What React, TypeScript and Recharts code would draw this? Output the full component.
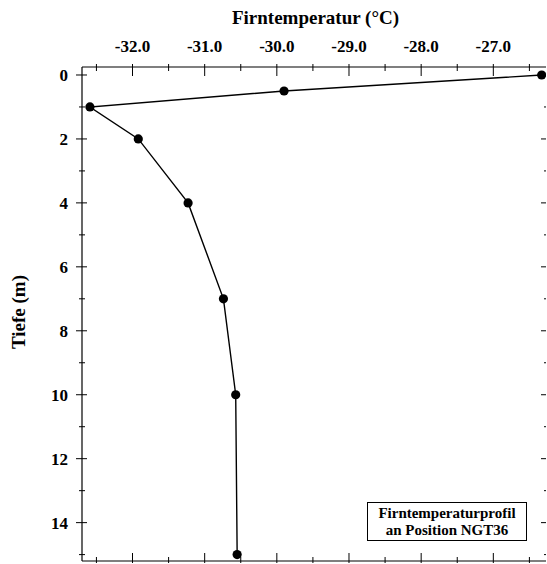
import React from "react";
import { ScatterChart, Scatter, XAxis, YAxis } from "recharts";

const depths = [0, 0.5, 1, 2, 4, 7, 10, 15];
const temps = [-26.33, -29.9, -32.59, -31.92, -31.23, -30.74, -30.57, -30.55];
const xTicks = [-32.5, -32, -31.5, -31, -30.5, -30, -29.5, -29, -28.5, -28, -27.5, -27, -26.5];
const yTicks = [0, 1, 2, 3, 4, 5, 6, 7, 8, 9, 10, 11, 12, 13, 14, 15];
const xTitle = "Firntemperatur (°C)";
const yTitle = "Tiefe (m)";
const noteLines = ["Firntemperaturprofil", "an Position NGT36"];

const data = depths.map((d, i) => ({ depth: d, temp: temps[i] }));

const FONT = "'Liberation Serif', 'DejaVu Serif', serif";
const isMajorX = (v: number) => Math.abs(v - Math.round(v)) < 1e-6;
const isMajorY = (v: number) => v % 2 === 0;

const TopTick = (props: any) => {
  const { x, y, payload } = props;
  const v = payload.value;
  const major = isMajorX(v);
  return (
    <g>
      <line x1={x} x2={x} y1={y - 3} y2={y + (major ? 9 : 4)} stroke="#000" strokeWidth={1} />
      {major && (
        <text x={x} y={y - 15} textAnchor="middle" fontFamily={FONT} fontWeight="bold" fontSize={17} fill="#000">
          {v.toFixed(1)}
        </text>
      )}
    </g>
  );
};

const BottomTick = (props: any) => {
  const { x, y, payload } = props;
  const major = isMajorX(payload.value);
  return <line x1={x} x2={x} y1={y + 2} y2={y - (major ? 8 : 4)} stroke="#000" strokeWidth={1} />;
};

const LeftTick = (props: any) => {
  const { x, y, payload } = props;
  const v = payload.value;
  const major = isMajorY(v);
  return (
    <g>
      <line x1={x - (major ? 6 : 3)} x2={x + (major ? 5 : 3)} y1={y} y2={y} stroke="#000" strokeWidth={1} />
      {major && (
        <text x={x - 14} y={y + 6} textAnchor="end" fontFamily={FONT} fontWeight="bold" fontSize={17} fill="#000">
          {v}
        </text>
      )}
    </g>
  );
};

const RightTick = (props: any) => {
  const { x, y, payload } = props;
  const major = isMajorY(payload.value);
  return <line x1={x} x2={x - (major ? 5 : 2)} y1={y} y2={y} stroke="#000" strokeWidth={1} />;
};

const Dot = (props: any) => <circle cx={props.cx} cy={props.cy} r={4.6} fill="#000" />;

const X_DOMAIN: [number, number] = [-32.7, -26.27];
const Y_DOMAIN: [number, number] = [-0.25, 15.2];

export default function App() {
  return (
    <div style={{ position: "fixed", left: 0, top: 0, width: 547, height: 564, overflow: "hidden", background: "#fff" }}>
      <style>{"html,body{margin:0;overflow:hidden;}"}</style>
      <div style={{ position: "absolute", left: 8, top: 8, width: 539, height: 556 }}>
        <ScatterChart width={539} height={556} margin={{ top: 29, right: 0, bottom: 0, left: 24 }}>
          <XAxis
            xAxisId="t"
            orientation="top"
            type="number"
            dataKey="temp"
            domain={X_DOMAIN}
            ticks={xTicks}
            allowDataOverflow
            height={30}
            tickSize={0}
            tickMargin={0}
            tickLine={false}
            axisLine={{ stroke: "#000", strokeWidth: 1.2 }}
            tick={<TopTick />}
            interval={0}
          />
          <XAxis
            xAxisId="b"
            orientation="bottom"
            type="number"
            dataKey="temp"
            domain={X_DOMAIN}
            ticks={xTicks}
            allowDataOverflow
            height={3}
            tickSize={0}
            tickMargin={0}
            tickLine={false}
            axisLine={{ stroke: "#000", strokeWidth: 1.2 }}
            tick={<BottomTick />}
            interval={0}
          />
          <YAxis
            yAxisId="l"
            type="number"
            dataKey="depth"
            reversed
            domain={Y_DOMAIN}
            ticks={yTicks}
            allowDataOverflow
            width={50}
            tickSize={0}
            tickMargin={0}
            tickLine={false}
            axisLine={{ stroke: "#000", strokeWidth: 1.2 }}
            tick={<LeftTick />}
            interval={0}
          />
          <YAxis
            yAxisId="r"
            orientation="right"
            type="number"
            dataKey="depth"
            reversed
            domain={Y_DOMAIN}
            ticks={yTicks}
            allowDataOverflow
            width={1}
            tickSize={0}
            tickMargin={0}
            tickLine={false}
            axisLine={false}
            tick={<RightTick />}
            interval={0}
          />
          <Scatter
            data={data}
            xAxisId="t"
            yAxisId="l"
            line={{ stroke: "#000", strokeWidth: 1.4 }}
            lineType="joint"
            shape={<Dot />}
            isAnimationActive={false}
          />
        </ScatterChart>
        <div
          style={{
            position: "absolute",
            left: 205,
            top: 0,
            width: 205,
            textAlign: "center",
            fontFamily: FONT,
            fontWeight: "bold",
            fontSize: 19,
            lineHeight: "20px",
          }}
        >
          {xTitle}
        </div>
        <div
          style={{
            position: "absolute",
            left: 11 - 50,
            top: 304 - 10,
            width: 100,
            textAlign: "center",
            fontFamily: FONT,
            fontWeight: "bold",
            fontSize: 19,
            lineHeight: "20px",
            transform: "rotate(-90deg)",
            whiteSpace: "nowrap",
          }}
        >
          {yTitle}
        </div>
        <div
          style={{
            position: "absolute",
            left: 359,
            top: 494,
            width: 160,
            height: 39,
            border: "1px solid #000",
            background: "#fff",
            textAlign: "center",
            fontFamily: FONT,
            fontWeight: "bold",
            fontSize: 15,
            lineHeight: "17px",
            paddingTop: 2,
            boxSizing: "border-box",
          }}
        >
          {noteLines.map((l) => (
            <div key={l}>{l}</div>
          ))}
        </div>
      </div>
    </div>
  );
}
